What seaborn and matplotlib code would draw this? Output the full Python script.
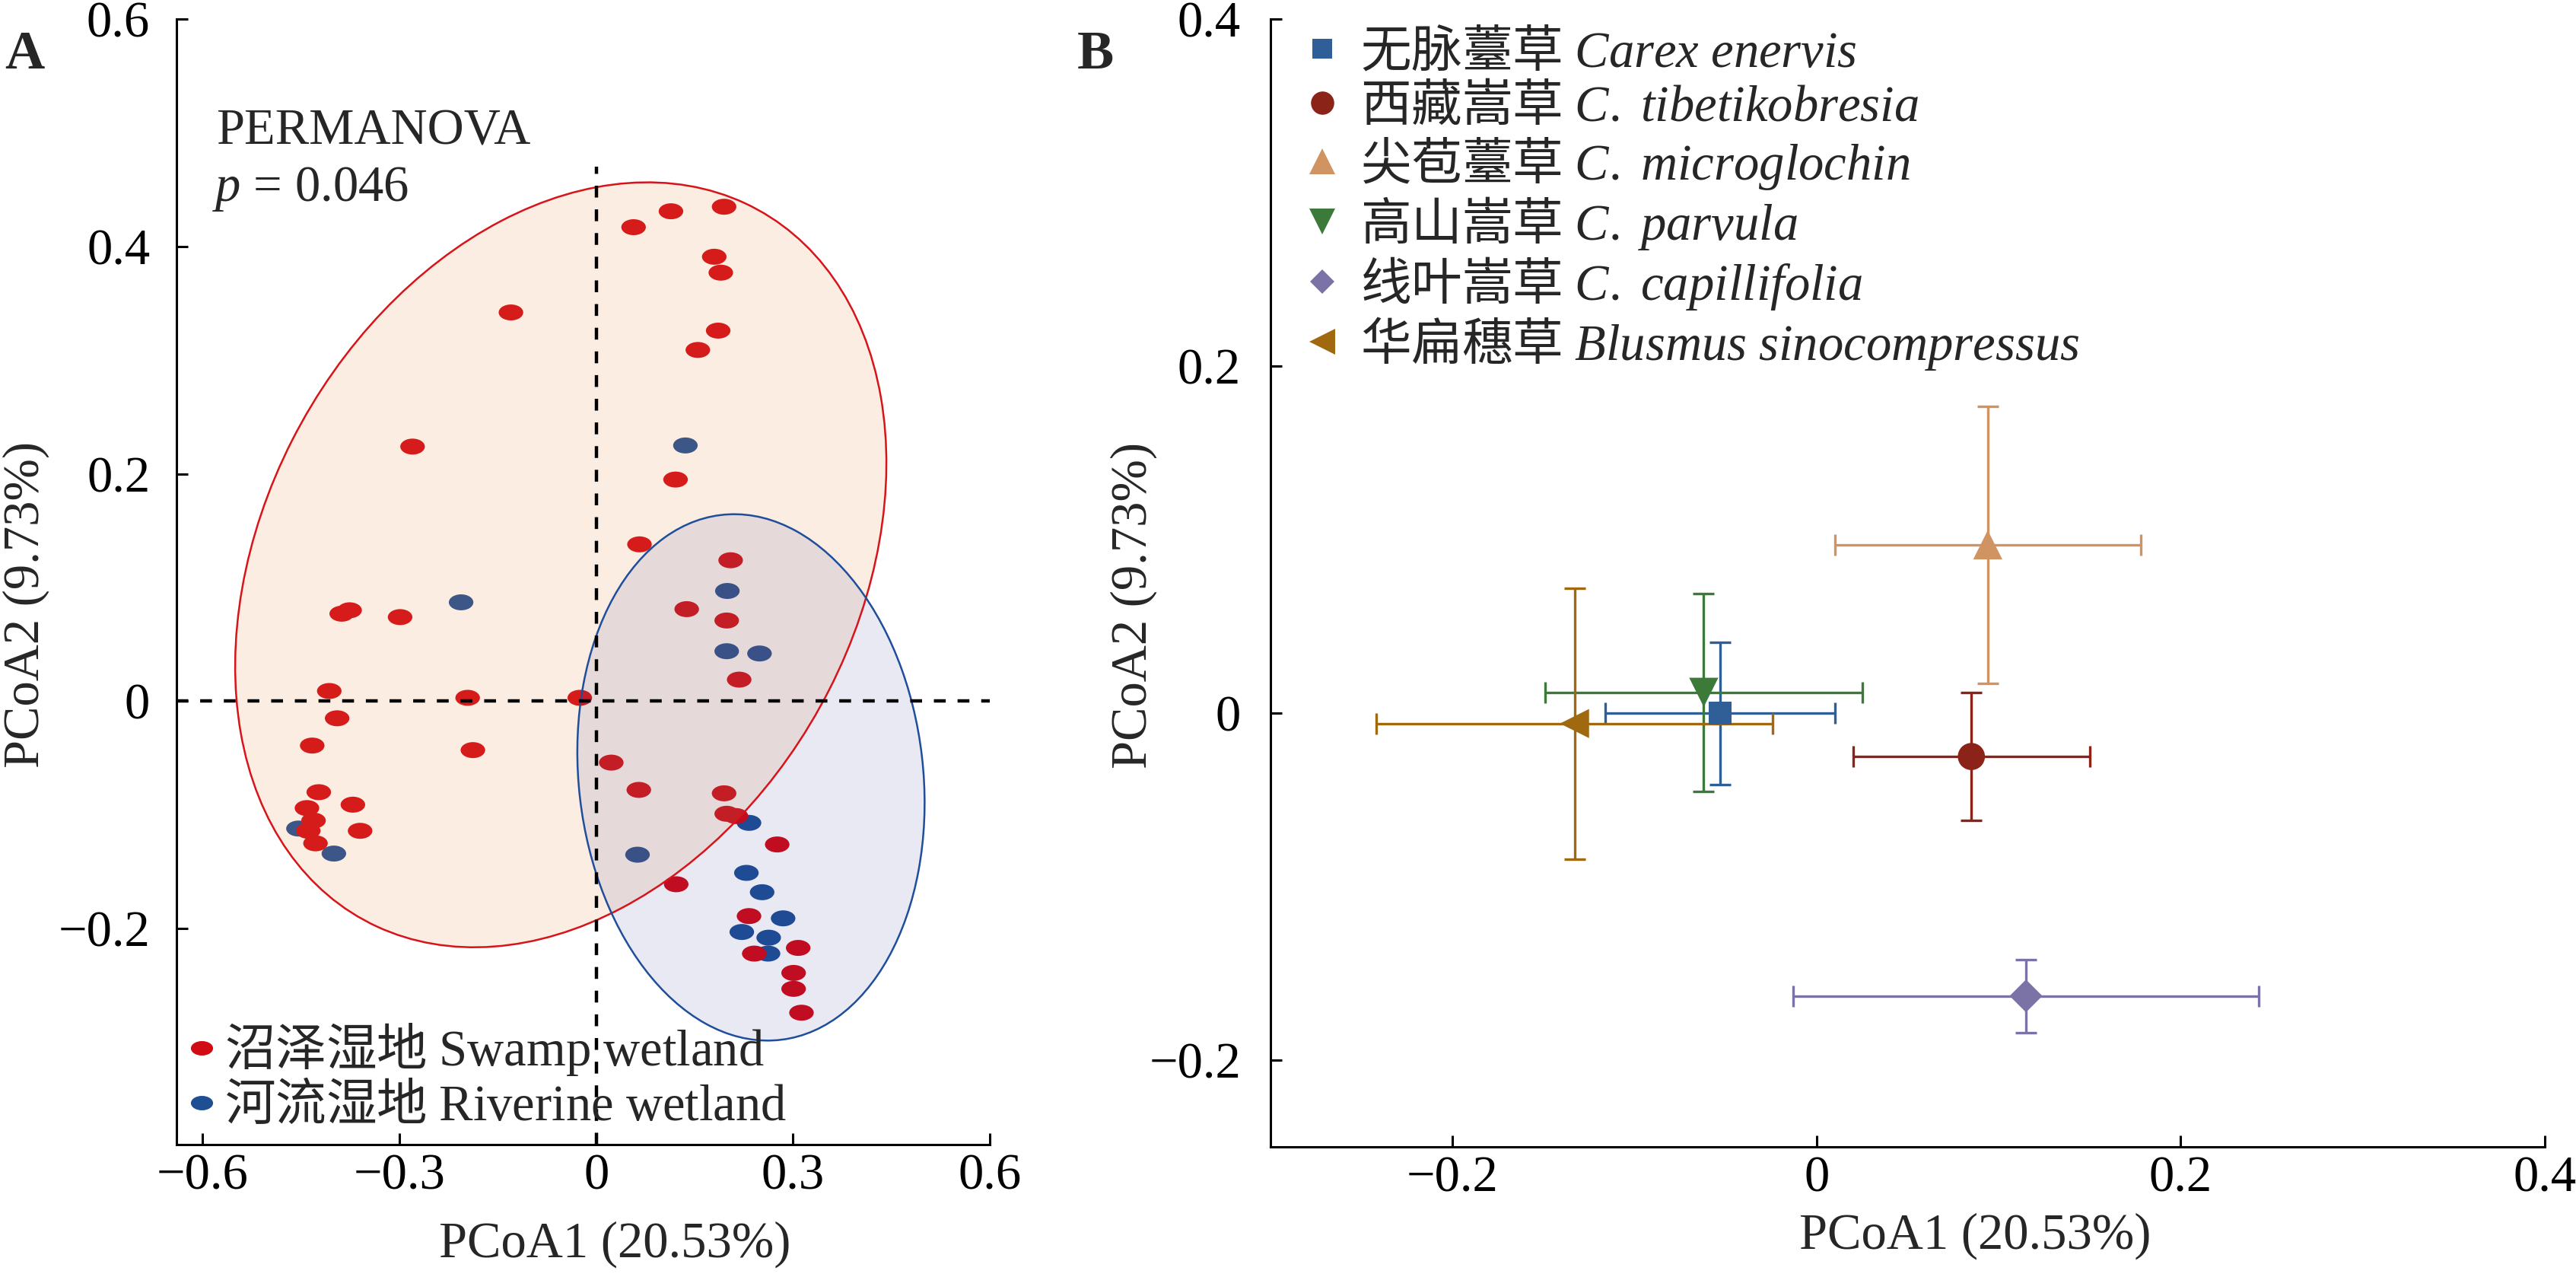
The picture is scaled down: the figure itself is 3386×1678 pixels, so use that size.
"""
PCoA of the soil community: wetland types (A) and plant species (B)
"""
import numpy as np
import pandas as pd
import matplotlib
matplotlib.use("Agg")
import matplotlib.pyplot as plt
from matplotlib.patches import Ellipse
from matplotlib.lines import Line2D
from matplotlib.path import Path
from matplotlib.ticker import FuncFormatter, FixedLocator
from matplotlib.font_manager import FontProperties
import seaborn as sns

# === Panel A: sample scores ===
swamp_x = [-0.130, -0.280, -0.388, -0.376, -0.299, -0.407, -0.196, -0.025,
           0.057, 0.114, 0.195, 0.180, 0.190, 0.186, 0.155, 0.121, 0.066,
           0.205, 0.138, 0.199, 0.218,
           -0.395, -0.433, -0.188, -0.423, -0.441, -0.371, -0.431, -0.439,
           -0.360, -0.428,
           0.023, 0.065, 0.195, 0.199, 0.213, 0.276, 0.122, 0.233, 0.241,
           0.308, 0.301, 0.301, 0.313]
swamp_y = [0.342, 0.224, 0.077, 0.080, 0.074, 0.009, 0.003, 0.003,
           0.417, 0.431, 0.435, 0.391, 0.377, 0.326, 0.309, 0.195, 0.138,
           0.124, 0.081, 0.071, 0.019,
           -0.015, -0.039, -0.043, -0.080, -0.094, -0.091, -0.105, -0.114,
           -0.114, -0.125,
           -0.054, -0.078, -0.081, -0.099, -0.101, -0.126, -0.161, -0.189,
           -0.222, -0.217, -0.239, -0.253, -0.274]
river_x = [-0.206, 0.136, 0.200, 0.199, 0.249, -0.454, -0.400, 0.233, 0.063,
           0.229, 0.253, 0.285, 0.222, 0.263, 0.262]
river_y = [0.087, 0.225, 0.097, 0.044, 0.042, -0.112, -0.134, -0.107, -0.135,
           -0.151, -0.168, -0.191, -0.203, -0.208, -0.222]
group_cn = ["沼泽湿地", "河流湿地"]
group_en = ["Swamp wetland", "Riverine wetland"]

# group ellipses: centre and shape matrix (data units)
ell_cx = [-0.054, 0.236]
ell_cy = [0.120, -0.067]
ell_sxx = [0.2465, 0.0701]
ell_syy = [0.1132, 0.0536]
ell_sxy = [0.0444, -0.0059]

# === Panel B: species centroids +- error ===
species_cn = ["无脉薹草", "西藏嵩草", "尖苞薹草", "高山嵩草", "线叶嵩草", "华扁穗草"]
species_lat = ["Carex enervis", "C. tibetikobresia", "C. microglochin",
               "C. parvula", "C. capillifolia", "Blusmus sinocompressus"]
mean_x = [-0.053, 0.085, 0.094, -0.062, 0.115, -0.133]
mean_y = [0.000, -0.025, 0.097, 0.012, -0.163, -0.006]
err_x = [0.063, 0.065, 0.084, 0.087, 0.128, 0.109]
err_y = [0.041, 0.037, 0.080, 0.057, 0.021, 0.078]

xlab = "PCoA1 (20.53%)"
ylab = "PCoA2 (9.73%)"

# === Styles ===
group_colors = ["#D20A14", "#1E4E94"]
fill_colors = ["#EB873E", "#2A2A96"]
fill_alpha = [0.15, 0.10]
edge_colors = ["#D7141A", "#1F4E9A"]
sp_colors = ["#2F5F96", "#8B2318", "#D09463", "#3C7A3A", "#7B72A6", "#A0690F"]
sp_markers = ["s", "o", "^", "v", "D", "<"]
sp_sizes = [115, 165, 190, 190, 120, 190]
leg_ms = [9.5, 11, 12, 12, 8, 12]

sns.set_theme(style="ticks")
plt.rcParams["font.family"] = ["Liberation Serif", "Noto Sans CJK SC"]
plt.rcParams["mathtext.fontset"] = "custom"
plt.rcParams["mathtext.rm"] = "Liberation Serif"
plt.rcParams["mathtext.it"] = "Liberation Serif:italic"
plt.rcParams["mathtext.bf"] = "Liberation Serif:bold"
FS = 24
cjk_prop = FontProperties(family=["Noto Sans CJK SC"], size=FS)

# flattened dot marker used in panel A
circ = Path.unit_circle()
dot = Path(circ.vertices * np.array([1.0, 0.65]), circ.codes)


def tick_fmt(v, pos):
    if abs(v) < 1e-9:
        return "0"
    return f"{v:.1f}".replace("-", "\u2212")


def style_axes(ax, xticks, yticks):
    sns.despine(ax=ax)
    for s in ("left", "bottom"):
        ax.spines[s].set_linewidth(1.1)
        ax.spines[s].set_color("black")
    ax.xaxis.set_major_locator(FixedLocator(xticks))
    ax.yaxis.set_major_locator(FixedLocator(yticks))
    ax.xaxis.set_major_formatter(FuncFormatter(tick_fmt))
    ax.yaxis.set_major_formatter(FuncFormatter(tick_fmt))
    ax.tick_params(direction="in", length=5.4, width=1.1, labelsize=FS, colors="black")
    ax.tick_params(axis="x", pad=4)
    ax.tick_params(axis="y", pad=12.5)
    ax.set_facecolor("white")
    ax.grid(False)


fig = plt.figure(figsize=(16.93, 8.39), dpi=200)
axA = fig.add_axes([0.0685, 0.1037, 0.3157, 0.8813])
axB = fig.add_axes([0.4932, 0.1019, 0.4947, 0.8831])

# ---------------- Panel A ----------------
df_a = pd.DataFrame({
    "x": river_x + swamp_x,
    "y": river_y + swamp_y,
    "group": [group_en[1]] * len(river_x) + [group_en[0]] * len(swamp_x),
})
sns.scatterplot(data=df_a, x="x", y="y", hue="group",
                palette=dict(zip(group_en, group_colors)),
                marker=dot, s=135, linewidth=0, legend=False, ax=axA, zorder=2)

for i in range(2):
    cov = np.array([[ell_sxx[i], ell_sxy[i]], [ell_sxy[i], ell_syy[i]]])
    vals, vecs = np.linalg.eigh(cov)
    ang = np.degrees(np.arctan2(vecs[1, 1], vecs[0, 1]))
    w, h = 2 * np.sqrt(vals[1]), 2 * np.sqrt(vals[0])
    axA.add_patch(Ellipse((ell_cx[i], ell_cy[i]), w, h, angle=ang,
                          facecolor=fill_colors[i], alpha=fill_alpha[i],
                          edgecolor="none", zorder=3))
    axA.add_patch(Ellipse((ell_cx[i], ell_cy[i]), w, h, angle=ang,
                          facecolor="none", edgecolor=edge_colors[i],
                          linewidth=0.9, zorder=4))

axA.set_xlim(-0.64, 0.6)
axA.set_ylim(-0.39, 0.6)
axA.axhline(0, color="black", lw=1.6, ls=(0, (3.5, 3.5)), zorder=5)
axA.axvline(0, ymax=(0.47 + 0.39) / 0.99, color="black", lw=1.6,
            ls=(0, (3.5, 3.5)), zorder=5)
style_axes(axA, [-0.6, -0.3, 0, 0.3, 0.6], [-0.2, 0, 0.2, 0.4, 0.6])

axA.text(-0.58, 0.49, "PERMANOVA", fontsize=FS, va="baseline", ha="left")
axA.text(-0.585, 0.44, "$p$ = 0.046", fontsize=FS, va="baseline", ha="left")

axA.set_xlabel(xlab, fontsize=FS)
axA.set_ylabel(ylab, fontsize=FS)
axA.xaxis.set_label_coords(0.539, -0.068)
axA.yaxis.set_label_coords(-0.156, 0.48)

hA = [Line2D([], [], marker=dot, color=c, linestyle="none", markersize=10.5,
             markeredgewidth=0) for c in group_colors]
lA = [cn + " $\\mathrm{" + en.replace(" ", "\\ ") + "}$"
      for cn, en in zip(group_cn, group_en)]
fig.legend(hA, lA, loc="center left", bbox_to_anchor=(0.0724, 0.157),
           bbox_transform=fig.transFigure, frameon=False, prop=cjk_prop,
           handlelength=0.6, handletextpad=0.15, labelspacing=0.05,
           borderpad=0, borderaxespad=0)

# ---------------- Panel B ----------------
df_b = pd.DataFrame({"x": mean_x, "y": mean_y, "species": species_lat})
for i in range(len(species_lat)):
    axB.errorbar(mean_x[i], mean_y[i], xerr=err_x[i], yerr=err_y[i], fmt="none",
                 ecolor=sp_colors[i], elinewidth=1.2, capsize=5, capthick=1.2,
                 zorder=3)
sns.scatterplot(data=df_b, x="x", y="y", hue="species", style="species",
                size="species",
                palette=dict(zip(species_lat, sp_colors)),
                markers=dict(zip(species_lat, sp_markers)),
                sizes=dict(zip(species_lat, sp_sizes)),
                linewidth=0, legend=False, ax=axB, zorder=4)

axB.set_xlim(-0.3, 0.4)
axB.set_ylim(-0.25, 0.4)
style_axes(axB, [-0.2, 0, 0.2, 0.4], [-0.2, 0, 0.2, 0.4])
axB.tick_params(axis="y", pad=14)
axB.set_xlabel(xlab, fontsize=FS)
axB.set_ylabel(ylab, fontsize=FS)
axB.xaxis.set_label_coords(0.553, -0.058)
axB.yaxis.set_label_coords(-0.089, 0.48)

hB = [Line2D([], [], marker=m, color=c, linestyle="none", markersize=ms,
             markeredgewidth=0) for m, c, ms in zip(sp_markers, sp_colors, leg_ms)]
lB = [cn + " $\\mathit{" + la.replace(" ", "\\ ") + "}$"
      for cn, la in zip(species_cn, species_lat)]
fig.legend(hB, lB, loc="center left", bbox_to_anchor=(0.5074, 0.844),
           bbox_transform=fig.transFigure, frameon=False, prop=cjk_prop,
           handlelength=0.6, handletextpad=0.45, labelspacing=0.06,
           borderpad=0, borderaxespad=0)

# panel letters
fig.text(32 / 3386, 1 - 72 / 1678, "A", fontsize=26, fontweight="bold",
         ha="center", va="center")
fig.text(1440 / 3386, 1 - 72 / 1678, "B", fontsize=26, fontweight="bold",
         ha="center", va="center")

fig.savefig("out.png", dpi=200, facecolor="white")
